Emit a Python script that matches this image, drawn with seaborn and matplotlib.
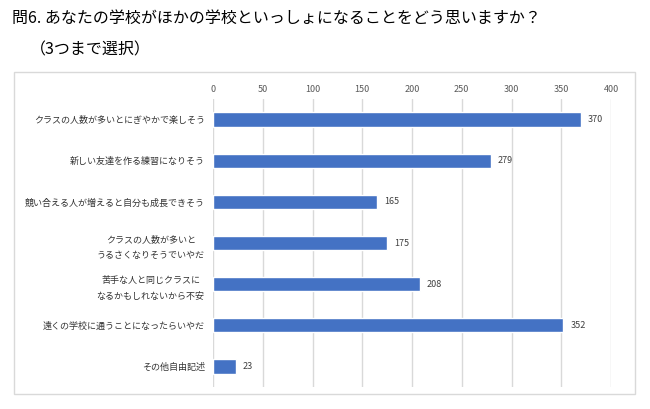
import matplotlib
matplotlib.use("Agg")
import matplotlib.pyplot as plt
import seaborn as sns
import pandas as pd
from matplotlib.patches import Rectangle

categories = [
    "クラスの人数が多いとにぎやかで楽しそう",
    "新しい友達を作る練習になりそう",
    "競い合える人が増えると自分も成長できそう",
    "クラスの人数が多いと\nうるさくなりそうでいやだ",
    "苦手な人と同じクラスに\nなるかもしれないから不安",
    "遠くの学校に通うことになったらいやだ",
    "その他自由記述",
]
values = [370, 279, 165, 175, 208, 352, 23]
x_ticks = [0, 50, 100, 150, 200, 250, 300, 350, 400]
title_line1 = "問6. あなたの学校がほかの学校といっしょになることをどう思いますか？"
title_line2 = "（3つまで選択）"

sns.set_theme(style="white")
plt.rcParams['font.family'] = ['Noto Sans CJK JP', 'DejaVu Sans']

df = pd.DataFrame({"cat": categories, "val": values})

fig = plt.figure(figsize=(6.5, 4.09), dpi=100)
ax = fig.add_axes([213/650, 1-387/409, (611-213)/650, (387-99)/409])

sns.barplot(data=df, x="val", y="cat", orient="h", color="#4472C4",
            width=0.35, ax=ax, saturation=1)

ax.set_xlim(0, 400)
ax.set_ylim(6.5, -0.5)
ax.set_xticks(x_ticks)
ax.xaxis.tick_top()
ax.tick_params(axis="x", length=0, labelsize=6.5, labelcolor="#595959", pad=3.5)
ax.tick_params(axis="y", length=0, labelsize=6.5, labelcolor="#333333", pad=6)
for lbl in ax.get_yticklabels():
    lbl.set_horizontalalignment("right")
    lbl.set_multialignment("center")
    lbl.set_linespacing(2.0)
ax.set_xlabel("")
ax.set_ylabel("")
ax.grid(axis="x", color="#d9d9d9", linewidth=1)
ax.set_axisbelow(True)
for s in ax.spines.values():
    s.set_visible(False)

for c in ax.containers:
    ax.bar_label(c, labels=[str(v) for v in values], padding=5, fontsize=6.5, color="#404040")

# chart border
fig.patches.append(Rectangle((14/650, 1-394/409), (635-14)/650, (394-72)/409,
                             transform=fig.transFigure, fill=False,
                             edgecolor="#d9d9d9", linewidth=1))

fig.text(12/650, 1-18/409, title_line1, fontsize=11.5, va="center", ha="left", color="#000000")
fig.text(30/650, 1-50/409, title_line2, fontsize=11.5, va="center", ha="left", color="#000000")

fig.savefig("out.png", dpi=100)
